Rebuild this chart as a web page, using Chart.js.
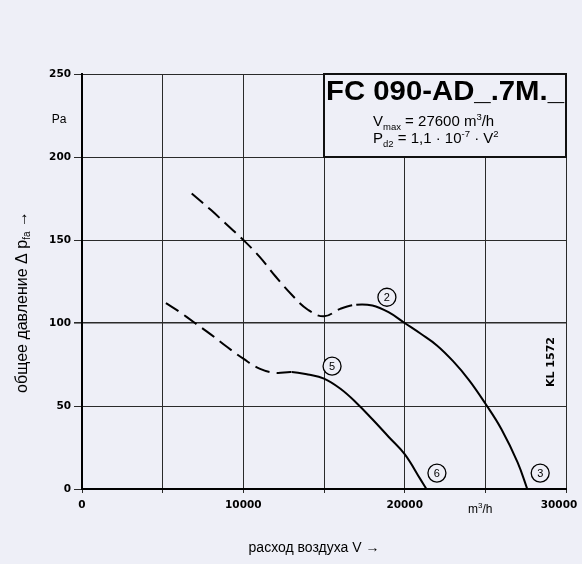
<!DOCTYPE html>
<html><head><meta charset="utf-8">
<script src="https://cdn.jsdelivr.net/npm/chart.js@4"></script>
<style>html,body{margin:0;padding:0;background:#eeeff7;overflow:hidden;}#wrap{width:582px;height:564px;position:relative;}</style>
</head><body><div id="wrap"><canvas id="c"></canvas></div>
<script>
// ---- data ----
const curve2X = [6800, 8000, 9000, 10000, 11000, 12000, 13000, 14000, 15000, 16000, 17000, 18000, 19000, 20000, 21000, 22000, 23000, 24000, 25000, 26000, 27000, 27600];
const curve2Y = [178, 168, 159, 150, 140, 128, 117, 108, 104, 108.5, 111, 110.5, 106.5, 100, 93.5, 86.5, 77, 65.5, 51.5, 36, 16, 0];
const curve5X = [5200, 6000, 7000, 8000, 9000, 10000, 11000, 12000, 13000, 14000, 15000, 16000, 17000, 18000, 19000, 20000, 21000, 21350];
const curve5Y = [112, 107, 100, 93, 85.5, 78.5, 72.5, 70, 70.5, 69, 66.5, 60.5, 52, 42, 31.5, 21, 5.5, 0];
const dashEnd2 = 17000;
const dashEnd5 = 13000;
const xTickLabels = [0, 10000, 20000, 30000];
const yTickLabels = [0, 50, 100, 150, 200, 250];
const circleLabels = ['2', '5', '6', '3'];
const circleX = [18900, 15500, 22000, 28400];
const circleY = [115.5, 74, 9.6, 9.6];
const titleText = 'FC 090-AD_.7M._';
const vmaxText = '27600';

const BG = '#eeeff7';
const toPts = (xs, ys) => xs.map((x, i) => ({x, y: ys[i]}));

function drawRuns(ctx, x, y, runs) {
  for (const r of runs) {
    ctx.font = r.font;
    ctx.fillText(r.t, x, y + (r.dy || 0));
    x += ctx.measureText(r.t).width;
  }
  return x;
}
function runsWidth(ctx, runs) {
  let w = 0;
  for (const r of runs) { ctx.font = r.font; w += ctx.measureText(r.t).width; }
  return w;
}

const F = 'Liberation Sans, Arial, sans-serif';

const decor = {
  id: 'decor',
  afterDraw(chart) {
    const {ctx, scales: {x, y}} = chart;
    ctx.save();
    // box
    const bx0 = x.getPixelForValue(15000), bx1 = x.getPixelForValue(30000);
    const by0 = y.getPixelForValue(250), by1 = y.getPixelForValue(200);
    ctx.fillStyle = BG;
    ctx.fillRect(bx0, by0, bx1 - bx0, by1 - by0);
    ctx.strokeStyle = '#111';
    ctx.lineWidth = 2;
    ctx.strokeRect(bx0, by0, bx1 - bx0, by1 - by0);
    ctx.fillStyle = '#000';
    ctx.textBaseline = 'alphabetic';
    ctx.textAlign = 'left';
    // title
    ctx.font = 'bold 27px ' + F;
    const tw = ctx.measureText(titleText).width;
    ctx.save();
    ctx.translate(bx0 + 2, by0 + 26);
    ctx.scale(238 / tw, 1);
    ctx.fillText(titleText, 0, 0);
    ctx.restore();
    // V max line
    drawRuns(ctx, bx0 + 49, by0 + 52, [
      {t: 'V', font: '15px ' + F},
      {t: 'max', font: '9.5px ' + F, dy: 4},
      {t: ' = ' + vmaxText + ' m', font: '15px ' + F},
      {t: '3', font: '9.5px ' + F, dy: -6},
      {t: '/h', font: '15px ' + F}
    ]);
    drawRuns(ctx, bx0 + 49, by0 + 69, [
      {t: 'P', font: '15px ' + F},
      {t: 'd2', font: '9.5px ' + F, dy: 4},
      {t: ' = 1,1 \u00b7 10', font: '15px ' + F},
      {t: '-7', font: '9.5px ' + F, dy: -6},
      {t: ' \u00b7 V', font: '15px ' + F},
      {t: '2', font: '9.5px ' + F, dy: -6}
    ]);
    // x tick labels (last one pulled inside like the original)
    ctx.textAlign = 'center';
    ctx.font = 'bold 10.5px DejaVu Sans, sans-serif';
    xTickLabels.forEach((v, i) => {
      let px = x.getPixelForValue(v);
      if (i === xTickLabels.length - 1) px -= 7;
      ctx.fillText(String(v), px, 508);
    });
    // circles
    ctx.lineWidth = 1.3;
    ctx.strokeStyle = '#000';
    ctx.textBaseline = 'middle';
    ctx.font = '11px ' + F;
    circleLabels.forEach((l, i) => {
      const px = x.getPixelForValue(circleX[i]), py = y.getPixelForValue(circleY[i]);
      ctx.fillStyle = BG;
      ctx.beginPath(); ctx.arc(px, py, 9, 0, Math.PI * 2); ctx.fill(); ctx.stroke();
      ctx.fillStyle = '#000';
      ctx.fillText(l, px, py + 0.5);
    });
    // unit labels
    ctx.font = '12px ' + F;
    ctx.textBaseline = 'alphabetic';
    ctx.fillText('Pa', 59, 123);
    ctx.textAlign = 'left';
    drawRuns(ctx, 468, 513, [
      {t: 'm', font: '12px ' + F},
      {t: '3', font: '8px ' + F, dy: -5},
      {t: '/h', font: '12px ' + F}
    ]);
    // x title
    ctx.textAlign = 'center';
    ctx.font = '14px ' + F;
    ctx.fillText('\u0440\u0430\u0441\u0445\u043e\u0434 \u0432\u043e\u0437\u0434\u0443\u0445\u0430 V \u2192', 314, 552);
    // y title
    ctx.save();
    ctx.translate(27, 302);
    ctx.rotate(-Math.PI / 2);
    ctx.textAlign = 'left';
    const yruns = [
      {t: '\u043e\u0431\u0449\u0435\u0435 \u0434\u0430\u0432\u043b\u0435\u043d\u0438\u0435 \u0394 p', font: '16px ' + F},
      {t: 'fa', font: '10px ' + F, dy: 3},
      {t: ' \u2192', font: '16px ' + F}
    ];
    drawRuns(ctx, -runsWidth(ctx, yruns) / 2, 0, yruns);
    ctx.restore();
    // KL 1572
    ctx.save();
    ctx.translate(554, 362);
    ctx.rotate(-Math.PI / 2);
    ctx.textAlign = 'center';
    ctx.font = 'bold 11px DejaVu Sans, sans-serif';
    ctx.fillText('KL 1572', 0, 0);
    ctx.restore();
    ctx.restore();
  }
};

const lineDs = (xs, ys, dashEnd) => ({
  data: toPts(xs, ys),
  borderColor: '#000',
  borderWidth: 2,
  pointRadius: 0,
  fill: false,
  tension: 0.4,
  segment: {borderDash: c => c.p1.parsed.x <= dashEnd ? [15, 7] : undefined}
});

new Chart(document.getElementById('c'), {
  type: 'line',
  data: {datasets: [lineDs(curve2X, curve2Y, dashEnd2), lineDs(curve5X, curve5Y, dashEnd5)]},
  plugins: [decor],
  options: {
    responsive: true,
    maintainAspectRatio: false,
    animation: false,
    layout: {padding: {top: 74, right: 16, left: 0, bottom: 0}, autoPadding: false},
    plugins: {legend: {display: false}, tooltip: {enabled: false}},
    scales: {
      x: {
        type: 'linear', min: 0, max: 30000,
        afterFit: s => { s.height = 75; s.paddingRight = 0; s.paddingLeft = 0; },
        border: {color: '#000', width: 2},
        grid: {color: '#2a2a2a', lineWidth: 1, tickLength: 4},
        ticks: {stepSize: 5000, display: false}
      },
      y: {
        type: 'linear', min: 0, max: 250,
        afterFit: s => { s.width = 82; s.paddingTop = 0; s.paddingBottom = 0; },
        border: {color: '#000', width: 2},
        grid: {color: '#2a2a2a', lineWidth: c => c.tick && c.tick.value === 100 ? 1.6 : 1, tickLength: 8},
        ticks: {
          stepSize: 50, padding: 3, color: '#000',
          font: {family: 'DejaVu Sans', weight: 'bold', size: 10.5},
          callback: v => yTickLabels.includes(v) ? String(v) : ''
        }
      }
    }
  }
});
</script></body></html>
